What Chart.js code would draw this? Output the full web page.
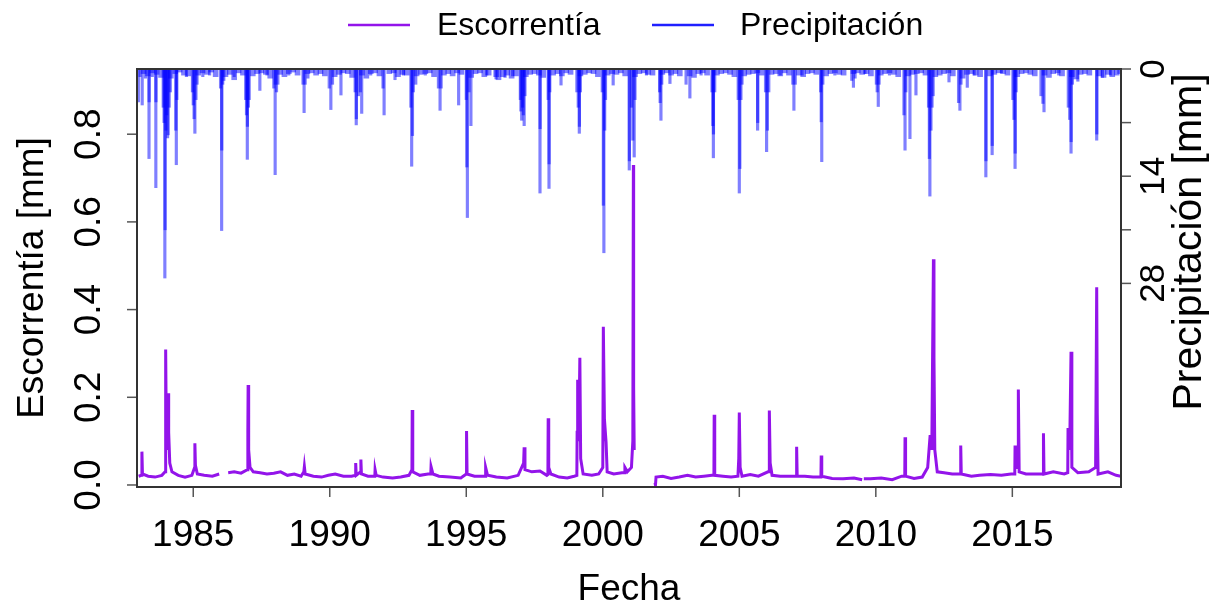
<!DOCTYPE html>
<html>
<head>
<meta charset="utf-8">
<script src="https://cdn.jsdelivr.net/npm/chart.js@4.4.1/dist/chart.umd.min.js"></script>
<style>
  html, body { margin: 0; padding: 0; background: #fff; }
  #wrap { width: 1225px; height: 609px; }
</style>
</head>
<body>
<div id="wrap"><canvas id="chart" width="1225" height="609"></canvas></div>
<script>
/* Daily series (decimal year) */
var runoffYears = [
  1983.00, 1983.10, 1983.12, 1983.14, 1983.35, 1983.60, 1983.85, 1983.97, 1983.99, 1984.01,
  1984.04, 1984.08, 1984.10, 1984.14, 1984.22, 1984.45, 1984.70, 1984.95, 1985.05, 1985.06,
  1985.08, 1985.15, 1985.40, 1985.70, 1985.95, 1985.98, 1986.28, 1986.50, 1986.75, 1986.98,
  1987.00, 1987.01, 1987.03, 1987.08, 1987.20, 1987.45, 1987.70, 1987.95, 1988.20, 1988.45,
  1988.70, 1988.95, 1989.05, 1989.07, 1989.10, 1989.40, 1989.70, 1989.95, 1990.20, 1990.50,
  1990.80, 1990.94, 1990.95, 1990.97, 1991.13, 1991.14, 1991.16, 1991.40, 1991.65, 1991.66,
  1991.70, 1991.95, 1992.30, 1992.60, 1992.90, 1993.01, 1993.02, 1993.04, 1993.30, 1993.60,
  1993.70, 1993.71, 1993.78, 1994.00, 1994.40, 1994.80, 1995.00, 1995.01, 1995.03, 1995.30,
  1995.60, 1995.70, 1995.71, 1995.78, 1996.10, 1996.50, 1996.90, 1997.10, 1997.12, 1997.15,
  1997.40, 1997.70, 1997.95, 1997.99, 1998.00, 1998.02, 1998.10, 1998.40, 1998.70, 1998.95,
  1999.05, 1999.06, 1999.08, 1999.12, 1999.16, 1999.19, 1999.28, 1999.60, 1999.85, 2000.00,
  2000.02, 2000.06, 2000.12, 2000.16, 2000.40, 2000.70, 2000.80, 2000.81, 2000.90, 2001.05,
  2001.10, 2001.12, 2001.13, 2001.15, 2001.16, 2001.91, 2001.93, 2001.95, 2002.20, 2002.50,
  2002.80, 2003.10, 2003.40, 2003.70, 2004.00, 2004.07, 2004.08, 2004.10, 2004.40, 2004.70,
  2004.95, 2004.98, 2005.00, 2005.03, 2005.10, 2005.40, 2005.70, 2006.05, 2006.09, 2006.10,
  2006.13, 2006.20, 2006.50, 2006.80, 2007.09, 2007.10, 2007.12, 2007.40, 2007.70, 2007.99,
  2008.00, 2008.02, 2008.40, 2008.80, 2009.20, 2009.50, 2009.52, 2009.56, 2009.80, 2010.20,
  2010.60, 2010.95, 2011.06, 2011.07, 2011.09, 2011.40, 2011.70, 2011.90, 2011.99, 2012.05,
  2012.11, 2012.13, 2012.16, 2012.25, 2012.50, 2012.80, 2013.10, 2013.11, 2013.13, 2013.50,
  2013.80, 2014.20, 2014.60, 2014.95, 2015.09, 2015.10, 2015.12, 2015.21, 2015.22, 2015.25,
  2015.50, 2015.90, 2016.13, 2016.14, 2016.16, 2016.50, 2016.90, 2017.03, 2017.04, 2017.10,
  2017.15, 2017.18, 2017.40, 2017.80, 2018.05, 2018.09, 2018.11, 2018.14, 2018.50, 2018.80,
  2018.98
];
var runoffValues = [
  0.020, 0.022, 0.076, 0.025, 0.020, 0.018, 0.022, 0.030, 0.309, 0.150,
  0.080, 0.209, 0.120, 0.050, 0.030, 0.022, 0.018, 0.022, 0.040, 0.095,
  0.045, 0.025, 0.022, 0.020, 0.025, null,  0.028, 0.030, 0.027, 0.035,
  0.120, 0.228, 0.080, 0.040, 0.030, 0.028, 0.025, 0.027, 0.030, 0.022,
  0.025, 0.020, 0.030, 0.042, 0.025, 0.020, 0.018, 0.022, 0.025, 0.020,
  0.020, 0.022, 0.050, 0.022, 0.030, 0.058, 0.025, 0.020, 0.020, 0.035,
  0.022, 0.018, 0.016, 0.018, 0.022, 0.035, 0.171, 0.030, 0.022, 0.025,
  0.025, 0.042, 0.025, 0.020, 0.018, 0.016, 0.025, 0.123, 0.025, 0.020,
  0.020, 0.020, 0.040, 0.022, 0.018, 0.016, 0.022, 0.050, 0.086, 0.035,
  0.030, 0.032, 0.022, 0.024, 0.152, 0.040, 0.025, 0.018, 0.016, 0.020,
  0.022, 0.120, 0.240, 0.100, 0.290, 0.060, 0.025, 0.022, 0.025, 0.040,
  0.361, 0.150, 0.097, 0.030, 0.025, 0.028, 0.028, 0.040, 0.030, 0.040,
  0.100, 0.730, 0.224, 0.080, null,  0.005, 0.000, 0.018, 0.020, 0.015,
  0.018, 0.022, 0.018, 0.020, 0.022, 0.022, 0.160, 0.022, 0.020, 0.018,
  0.020, 0.060, 0.165, 0.040, 0.020, 0.024, 0.020, 0.030, 0.030, 0.170,
  0.050, 0.022, 0.020, 0.020, 0.020, 0.087, 0.020, 0.020, 0.018, 0.018,
  0.067, 0.020, 0.015, 0.014, 0.016, 0.012, null,  0.014, 0.014, 0.016,
  0.012, 0.020, 0.020, 0.109, 0.020, 0.015, 0.018, 0.040, 0.114, 0.080,
  0.515, 0.290, 0.080, 0.030, 0.028, 0.025, 0.025, 0.090, 0.025, 0.020,
  0.022, 0.024, 0.022, 0.025, 0.025, 0.090, 0.040, 0.040, 0.218, 0.030,
  0.025, 0.025, 0.025, 0.118, 0.025, 0.030, 0.025, 0.028, 0.130, 0.080,
  0.304, 0.040, 0.028, 0.030, 0.040, 0.451, 0.165, 0.025, 0.030, 0.022,
  0.020
];

/* Precipitation events (wet-season days) */
var precipYears = [
  1982.99, 1983.05, 1983.13, 1983.25, 1983.38, 1983.384, 1983.50, 1983.63, 1983.634, 1983.90,
  1983.93, 1983.96, 1983.97, 1984.00, 1984.03, 1984.06, 1984.08, 1984.12, 1984.16, 1984.36,
  1984.38, 1984.40, 1984.75, 1984.97, 1985.00, 1985.03, 1985.06, 1985.10, 1985.14, 1985.35,
  1985.60, 1986.00, 1986.04, 1986.044, 1986.08, 1986.12, 1986.50, 1986.92, 1986.95, 1986.98,
  1986.984, 1987.02, 1987.05, 1987.44, 1987.70, 1987.95, 1988.00, 1988.004, 1988.05, 1988.10,
  1988.50, 1989.02, 1989.06, 1989.10, 1989.20, 1989.98, 1990.04, 1990.10, 1990.41, 1990.93,
  1990.97, 1990.974, 1991.05, 1991.12, 1991.17, 1991.50, 1991.95, 1991.99, 1992.39, 1992.70,
  1992.97, 1993.00, 1993.03, 1993.06, 1993.15, 1993.50, 1993.98, 1994.04, 1994.08, 1994.72,
  1995.00, 1995.02, 1995.04, 1995.10, 1995.17, 1995.75, 1996.05, 1996.09, 1996.15, 1996.42,
  1996.70, 1996.98, 1997.00, 1997.03, 1997.06, 1997.09, 1997.12, 1997.15, 1997.70, 1997.704,
  1998.00, 1998.03, 1998.034, 1998.06, 1998.47, 1999.05, 1999.10, 1999.14, 1999.144, 1999.18,
  1999.98, 2000.02, 2000.04, 2000.07, 2000.10, 2000.38, 2000.97, 2000.974, 2001.05, 2001.10,
  2001.15, 2001.18, 2001.60, 2002.08, 2002.10, 2002.13, 2002.16, 2002.46, 2003.05, 2003.19,
  2003.60, 2004.00, 2004.03, 2004.05, 2004.054, 2004.10, 2004.96, 2005.00, 2005.02, 2005.06,
  2005.10, 2005.67, 2005.674, 2005.96, 2006.00, 2006.03, 2006.08, 2006.50, 2006.96, 2007.00,
  2007.05, 2007.30, 2007.98, 2008.00, 2008.02, 2008.06, 2008.50, 2009.12, 2009.18, 2009.24,
  2009.60, 2010.02, 2010.05, 2010.09, 2010.12, 2010.50, 2011.03, 2011.07, 2011.10, 2011.25,
  2011.47, 2011.93, 2011.96, 2011.98, 2012.02, 2012.06, 2012.10, 2012.68, 2013.03, 2013.08,
  2013.12, 2013.35, 2013.60, 2014.03, 2014.034, 2014.26, 2014.264, 2014.60, 2015.02, 2015.06,
  2015.10, 2015.104, 2015.14, 2016.05, 2016.12, 2016.16, 2016.70, 2017.05, 2017.10, 2017.15,
  2017.154, 2017.20, 2017.40, 2018.09, 2018.094, 2018.30, 2018.60, 2018.90
];
var precipValues = [
  4.3, 1.0, 4.7, 1.2, 11.7, 4.3, 1.0, 15.5, 4.3, 5.0,
  7.0, 27.3, 21.0, 8.0, 6.0, 9.0, 8.6, 5.0, 3.0, 8.0,
  12.5, 4.0, 1.0, 3.0, 4.7, 6.5, 8.4, 4.0, 2.0, 1.0,
  0.8, 2.5, 21.1, 10.6, 2.0, 1.5, 1.0, 4.0, 6.0, 11.8,
  7.5, 5.0, 4.0, 2.8, 0.8, 2.5, 13.8, 2.0, 3.0, 2.0,
  0.8, 2.0, 5.7, 2.0, 1.2, 2.5, 5.3, 2.0, 3.4, 3.0,
  7.3, 6.5, 3.5, 3.0, 5.8, 0.8, 2.5, 6.0, 1.4, 0.8,
  5.0, 12.7, 8.7, 3.0, 2.0, 0.8, 2.5, 5.4, 2.5, 4.7,
  4.0, 12.8, 19.4, 3.0, 7.4, 0.8, 1.0, 1.3, 1.0, 1.1,
  0.9, 4.0, 5.5, 6.7, 5.0, 6.0, 7.4, 3.5, 16.2, 7.8,
  4.0, 15.6, 12.4, 3.0, 2.1, 3.0, 5.0, 8.4, 7.5, 3.0,
  3.0, 17.8, 24.0, 8.0, 4.0, 2.1, 13.2, 12.0, 5.0, 9.3,
  11.5, 4.0, 0.8, 3.0, 4.4, 6.7, 2.0, 1.9, 2.0, 3.8,
  0.8, 3.0, 7.4, 11.6, 8.5, 3.0, 4.0, 16.2, 13.0, 4.0,
  2.0, 8.0, 7.0, 3.0, 10.8, 8.0, 3.0, 0.8, 2.0, 5.4,
  2.0, 0.8, 3.0, 6.9, 12.1, 2.0, 0.8, 1.5, 2.4, 1.2,
  0.6, 2.0, 3.0, 4.9, 2.0, 0.8, 6.0, 10.6, 3.0, 9.1,
  3.4, 5.0, 11.7, 16.6, 8.0, 5.0, 3.5, 1.7, 4.4, 5.4,
  2.0, 2.4, 0.8, 14.1, 12.0, 11.2, 10.0, 0.5, 4.0, 6.6,
  13.0, 11.0, 3.0, 3.5, 4.5, 5.6, 0.8, 5.0, 6.6, 11.0,
  9.5, 2.0, 1.6, 9.3, 8.5, 1.1, 0.8, 0.6
];

/* Light drizzle days forming the band under the top edge */
var drizzleYears = [
  1983.18, 1983.34, 1983.50, 1983.66, 1983.82, 1984.18, 1984.34, 1984.50, 1984.66, 1984.82,
  1985.18, 1985.34, 1985.50, 1985.66, 1985.82, 1986.18, 1986.34, 1986.50, 1986.66, 1986.82,
  1987.18, 1987.34, 1987.50, 1987.66, 1987.82, 1988.18, 1988.34, 1988.50, 1988.66, 1988.82,
  1989.18, 1989.34, 1989.50, 1989.66, 1989.82, 1990.18, 1990.34, 1990.50, 1990.66, 1990.82,
  1991.18, 1991.34, 1991.50, 1991.66, 1991.82, 1992.18, 1992.34, 1992.50, 1992.66, 1992.82,
  1993.18, 1993.34, 1993.50, 1993.66, 1993.82, 1994.18, 1994.34, 1994.50, 1994.66, 1994.82,
  1995.18, 1995.34, 1995.50, 1995.66, 1995.82, 1996.18, 1996.34, 1996.50, 1996.66, 1996.82,
  1997.18, 1997.34, 1997.50, 1997.66, 1997.82, 1998.18, 1998.34, 1998.50, 1998.66, 1998.82,
  1999.18, 1999.34, 1999.50, 1999.66, 1999.82, 2000.18, 2000.34, 2000.50, 2000.66, 2000.82,
  2001.18, 2001.34, 2001.50, 2001.66, 2001.82, 2002.18, 2002.34, 2002.50, 2002.66, 2002.82,
  2003.18, 2003.34, 2003.50, 2003.66, 2003.82, 2004.18, 2004.34, 2004.50, 2004.66, 2004.82,
  2005.18, 2005.34, 2005.50, 2005.66, 2005.82, 2006.18, 2006.34, 2006.50, 2006.66, 2006.82,
  2007.18, 2007.34, 2007.50, 2007.66, 2007.82, 2008.18, 2008.34, 2008.50, 2008.66, 2008.82,
  2009.18, 2009.34, 2009.50, 2009.66, 2009.82, 2010.18, 2010.34, 2010.50, 2010.66, 2010.82,
  2011.18, 2011.34, 2011.50, 2011.66, 2011.82, 2012.18, 2012.34, 2012.50, 2012.66, 2012.82,
  2013.18, 2013.34, 2013.50, 2013.66, 2013.82, 2014.18, 2014.34, 2014.50, 2014.66, 2014.82,
  2015.18, 2015.34, 2015.50, 2015.66, 2015.82, 2016.18, 2016.34, 2016.50, 2016.66, 2016.82,
  2017.18, 2017.34, 2017.50, 2017.66, 2017.82, 2018.18, 2018.34, 2018.50, 2018.66, 2018.82
];
var drizzleValues = [
  0.6, 0.9, 0.5, 0.7, 1.1, 1.2, 0.6, 0.4, 0.8, 0.9,
  0.8, 0.5, 0.7, 0.4, 1.0, 1.0, 0.7, 1.4, 0.5, 0.8,
  0.9, 0.6, 0.5, 0.7, 1.2, 0.7, 1.0, 0.6, 0.4, 0.8,
  0.6, 0.5, 0.8, 0.6, 0.9, 1.0, 0.7, 0.5, 0.6, 1.1,
  0.8, 1.2, 0.6, 0.5, 0.9, 0.6, 0.5, 1.0, 0.7, 0.8,
  0.9, 0.7, 0.6, 0.5, 1.0, 0.8, 0.6, 0.9, 0.5, 0.7,
  1.1, 0.6, 0.5, 1.0, 0.8, 1.4, 1.0, 0.8, 1.2, 0.9,
  1.0, 0.7, 0.6, 0.8, 1.1, 0.8, 0.6, 0.9, 0.5, 0.7,
  0.9, 0.7, 0.5, 0.6, 1.0, 0.8, 0.6, 0.7, 0.5, 0.9,
  1.0, 0.6, 0.5, 0.7, 0.8, 0.7, 0.5, 0.8, 0.6, 0.9,
  0.9, 1.1, 0.6, 0.5, 0.8, 0.8, 0.6, 0.5, 0.7, 1.0,
  0.9, 0.7, 0.6, 0.5, 0.8, 0.7, 0.6, 0.9, 0.5, 0.8,
  0.8, 1.0, 0.6, 0.5, 0.7, 0.9, 0.6, 0.5, 0.7, 0.8,
  0.6, 0.5, 0.7, 0.6, 0.9, 0.8, 0.6, 0.5, 0.7, 1.0,
  0.9, 0.7, 0.6, 0.5, 0.8, 1.0, 0.8, 0.6, 0.5, 0.9,
  1.2, 0.7, 0.6, 0.8, 1.0, 0.9, 0.7, 0.5, 0.6, 0.8,
  1.0, 0.6, 0.5, 0.7, 0.9, 0.8, 1.1, 0.6, 0.5, 0.9,
  1.0, 1.3, 0.7, 0.6, 0.8, 0.9, 1.1, 0.7, 1.0, 0.8
];

var yearTicks = [1985, 1990, 1995, 2000, 2005, 2010, 2015];
var runoffTicks = [0, 0.2, 0.4, 0.6, 0.8];
var precipTicks = [0, 7, 14, 21, 28];
var precipTickLabels = ['0', '', '14', '', '28'];

var FONT = "'Liberation Sans', Arial, Helvetica, sans-serif";
var PURPLE = '#9314EA';
var BLUE = 'rgba(0,0,255,0.5)';

function pairs(xs, ys) {
  return xs.map(function (t, i) { return { x: t, y: ys[i] }; });
}

/* ---- Axes, box, labels and legend drawn R-style ---- */
var rAxesPlugin = {
  id: 'rAxes',
  afterDraw: function (chart) {
    var c = chart.ctx, a = chart.chartArea;
    var sx = chart.scales.x, sy = chart.scales.y, sp = chart.scales.y2;

    function vtext(txt, x, y, size) {
      c.save();
      c.translate(x, y);
      c.rotate(-Math.PI / 2);
      c.font = size + 'px ' + FONT;
      c.textAlign = 'center';
      c.textBaseline = 'alphabetic';
      c.fillText(txt, 0, 0);
      c.restore();
    }

    c.save();
    c.fillStyle = '#000';
    c.strokeStyle = '#555';
    c.lineWidth = 1.5;

    // bottom axis
    c.font = '37px ' + FONT;
    c.textAlign = 'center';
    c.textBaseline = 'alphabetic';
    yearTicks.forEach(function (yr) {
      var x = sx.getPixelForValue(yr);
      c.beginPath(); c.moveTo(x, a.bottom); c.lineTo(x, a.bottom + 10); c.stroke();
      c.fillText(String(yr), x, 546);
    });

    // left axis
    runoffTicks.forEach(function (v) {
      var y = sy.getPixelForValue(v);
      c.beginPath(); c.moveTo(a.left - 10, y); c.lineTo(a.left, y); c.stroke();
      vtext(v.toFixed(1), 100, y, 37);
    });

    // right axis
    precipTicks.forEach(function (v, i) {
      var y = sp.getPixelForValue(v);
      c.beginPath(); c.moveTo(a.right, y); c.lineTo(a.right + 10, y); c.stroke();
      if (precipTickLabels[i]) vtext(precipTickLabels[i], 1164, y, 35);
    });

    // axis titles
    c.font = '37px ' + FONT;
    c.fillText('Fecha', (a.left + a.right) / 2, 600);
    vtext('Escorrentía [mm]', 43, (a.top + a.bottom) / 2, 37);
    vtext('Precipitación [mm]', 1201, 242, 41);

    // box
    c.strokeStyle = '#333';
    c.lineWidth = 2;
    c.strokeRect(a.left, a.top, a.right - a.left, a.bottom - a.top);

    // legend
    c.lineWidth = 2.5;
    c.strokeStyle = PURPLE;
    c.beginPath(); c.moveTo(348, 25); c.lineTo(410, 25); c.stroke();
    c.strokeStyle = '#2020ff';
    c.beginPath(); c.moveTo(652, 25); c.lineTo(714, 25); c.stroke();
    c.font = '32px ' + FONT;
    c.textAlign = 'left';
    c.textBaseline = 'middle';
    c.fillText('Escorrentía', 437, 26);
    c.fillText('Precipitación', 740, 26);
    c.restore();
  }
};

new Chart(document.getElementById('chart'), {
  type: 'line',
  data: {
    datasets: [
      {
        label: 'Escorrentía',
        data: pairs(runoffYears, runoffValues),
        borderColor: PURPLE,
        borderWidth: 3,
        pointRadius: 0,
        tension: 0,
        spanGaps: false,
        yAxisID: 'y',
        order: 0
      },
      {
        type: 'bar',
        label: 'Precipitación',
        data: pairs(precipYears, precipValues),
        backgroundColor: BLUE,
        borderWidth: 0,
        barThickness: 2.5,
        grouped: false,
        yAxisID: 'y2',
        order: 1
      },
      {
        type: 'bar',
        label: 'Precipitación (llovizna)',
        data: pairs(drizzleYears, drizzleValues),
        backgroundColor: BLUE,
        borderWidth: 0,
        barThickness: 5,
        grouped: false,
        yAxisID: 'y2',
        order: 2
      }
    ]
  },
  options: {
    responsive: false,
    animation: false,
    layout: { padding: { left: 137, right: 104, top: 69, bottom: 122 } },
    plugins: {
      legend: { display: false },
      tooltip: { enabled: false }
    },
    scales: {
      x: { type: 'linear', min: 1982.94, max: 2018.98, offset: false, display: false },
      y: { type: 'linear', position: 'left', min: -0.0046, max: 0.9487, display: false },
      y2: { type: 'linear', position: 'right', min: 0, max: 54.59, reverse: true, display: false }
    }
  },
  plugins: [rAxesPlugin]
});
</script>
</body>
</html>
